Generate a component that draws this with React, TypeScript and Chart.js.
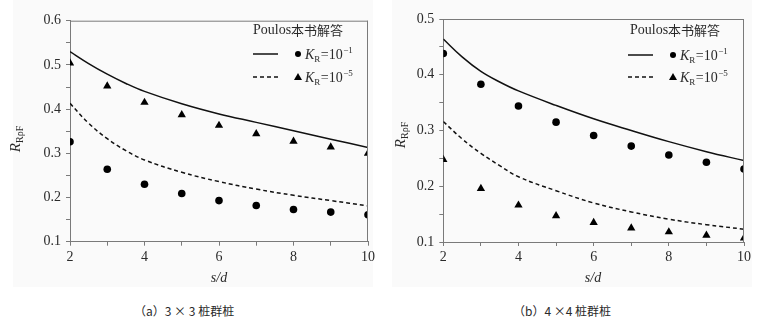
import React, { useEffect, useRef } from 'react';
import { Chart, registerables } from 'chart.js';
Chart.register(...registerables);

// s/d values for the marker series
const sdPoints = [2, 3, 4, 5, 6, 7, 8, 9, 10];
// s/d values for the Poulos curves
const curveX = [2, 2.5, 3, 3.5, 4, 5, 6, 7, 8, 9, 10];

// (a) 3x3
const aSolid = [0.530, 0.503, 0.479, 0.458, 0.440, 0.412, 0.389, 0.370, 0.351, 0.332, 0.313];
const aDashed = [0.413, 0.368, 0.333, 0.306, 0.285, 0.257, 0.236, 0.219, 0.205, 0.193, 0.181];
const aTriangles = [0.504, 0.452, 0.415, 0.387, 0.363, 0.344, 0.327, 0.314, 0.300];
const aCircles = [0.326, 0.264, 0.230, 0.209, 0.193, 0.182, 0.173, 0.167, 0.161];

// (b) 4x4
const bSolid = [0.464, 0.432, 0.406, 0.387, 0.371, 0.345, 0.321, 0.300, 0.280, 0.262, 0.246];
const bDashed = [0.316, 0.285, 0.259, 0.237, 0.217, 0.192, 0.170, 0.154, 0.141, 0.131, 0.123];
const bCircles = [0.438, 0.383, 0.344, 0.315, 0.291, 0.272, 0.256, 0.243, 0.231];
const bTriangles = [0.248, 0.196, 0.166, 0.147, 0.135, 0.125, 0.118, 0.112, 0.107];

const legendTitle = 'Poulos本书解答';
const xTitle = 's/d';
const captionA = '（a）3 × 3 桩群桩';
const captionB = '（b）4 ×4 桩群桩';

const SERIF = '"Liberation Serif", "DejaVu Serif", serif';
const CJK = '"Noto Sans CJK SC", sans-serif';
const AXIS = '#7a7a7a';
const TEXT = '#2a2a2a';

type PanelCfg = {
  left: number;
  ymax: number;
  solid: number[];
  dashed: number[];
  circles: number[];
  triangles: number[];
  yAxisWidth: number;
  xAxisHeight: number;
  padTop: number;
  padRight: number;
  bgLeft: number;
  bgRight: number;
  legX: number;
  legLineX: number;
  legMarkX: number;
  legTextX: number;
  legY: number[];
  yTitle: [number, number];
  xTitleX: number;
};

function drawKR(ctx: CanvasRenderingContext2D, x: number, y: number, exp: string) {
  ctx.fillStyle = TEXT;
  ctx.textAlign = 'left';
  ctx.textBaseline = 'alphabetic';
  const base = y + 5;
  ctx.font = `italic 14px ${SERIF}`;
  ctx.fillText('K', x, base);
  let cx = x + ctx.measureText('K').width;
  ctx.font = `9px ${SERIF}`;
  ctx.fillText('R', cx, base + 3);
  cx += ctx.measureText('R').width + 0.5;
  ctx.font = `14px ${SERIF}`;
  ctx.fillText('=10', cx, base);
  cx += ctx.measureText('=10').width + 0.5;
  ctx.font = `9px ${SERIF}`;
  ctx.fillText(exp, cx, base - 6);
}

function Panel({ cfg }: { cfg: PanelCfg }) {
  const ref = useRef<HTMLCanvasElement | null>(null);
  useEffect(() => {
    const canvas = ref.current;
    if (!canvas) return;
    const decor = {
      id: 'decor',
      beforeDraw(chart: any) {
        const ctx = chart.ctx as CanvasRenderingContext2D;
        ctx.save();
        ctx.fillStyle = '#fafafa';
        ctx.fillRect(cfg.bgLeft, 0, cfg.bgRight - cfg.bgLeft, 287);
        ctx.restore();
      },
      afterDraw(chart: any) {
        const ctx = chart.ctx as CanvasRenderingContext2D;
        const a = chart.chartArea;
        ctx.save();
        // frame top/right
        ctx.strokeStyle = AXIS;
        ctx.lineWidth = 1;
        ctx.beginPath();
        ctx.moveTo(a.left, a.top + 0.5);
        ctx.lineTo(a.right, a.top + 0.5);
        ctx.moveTo(a.right - 0.5, a.top);
        ctx.lineTo(a.right - 0.5, a.bottom);
        ctx.stroke();

        // x title
        ctx.fillStyle = TEXT;
        ctx.font = `italic 14px ${SERIF}`;
        ctx.textAlign = 'center';
        ctx.textBaseline = 'middle';
        ctx.fillText(xTitle, cfg.xTitleX, 278);

        // y title R_RρF
        ctx.save();
        ctx.translate(cfg.yTitle[0], cfg.yTitle[1]);
        ctx.rotate(-Math.PI / 2);
        ctx.font = `italic 15px ${SERIF}`;
        const w1 = ctx.measureText('R').width;
        ctx.font = `10px ${SERIF}`;
        const w2 = ctx.measureText('RρF').width;
        const sx = -(w1 + w2) / 2;
        ctx.textAlign = 'left';
        ctx.textBaseline = 'alphabetic';
        ctx.font = `italic 15px ${SERIF}`;
        ctx.fillText('R', sx, 5);
        ctx.font = `10px ${SERIF}`;
        ctx.fillText('RρF', sx + w1, 8);
        ctx.restore();

        // legend
        ctx.textAlign = 'left';
        ctx.textBaseline = 'middle';
        ctx.font = `14px ${SERIF}`;
        const pw = ctx.measureText('Poulos').width;
        ctx.fillText('Poulos', cfg.legX, cfg.legY[0]);
        ctx.font = `13px ${CJK}`;
        ctx.fillText(legendTitle.slice(6), cfg.legX + pw, cfg.legY[0]);

        ctx.strokeStyle = '#111';
        ctx.lineWidth = 1.5;
        ctx.beginPath();
        ctx.moveTo(cfg.legLineX, cfg.legY[1]);
        ctx.lineTo(cfg.legLineX + 25, cfg.legY[1]);
        ctx.stroke();
        ctx.setLineDash([4, 3]);
        ctx.beginPath();
        ctx.moveTo(cfg.legLineX, cfg.legY[2]);
        ctx.lineTo(cfg.legLineX + 25, cfg.legY[2]);
        ctx.stroke();
        ctx.setLineDash([]);

        ctx.fillStyle = '#000';
        ctx.beginPath();
        ctx.arc(cfg.legMarkX, cfg.legY[1], 3, 0, Math.PI * 2);
        ctx.fill();
        const ty = cfg.legY[2];
        ctx.beginPath();
        ctx.moveTo(cfg.legMarkX, ty - 4);
        ctx.lineTo(cfg.legMarkX + 4, ty + 3);
        ctx.lineTo(cfg.legMarkX - 4, ty + 3);
        ctx.closePath();
        ctx.fill();

        drawKR(ctx, cfg.legTextX, cfg.legY[1], '−1');
        drawKR(ctx, cfg.legTextX, cfg.legY[2], '−5');
        ctx.restore();
      },
    };

    const toPts = (xs: number[], ys: number[]) => xs.map((x, i) => ({ x, y: ys[i] }));

    const chart = new Chart(canvas, {
      type: 'scatter',
      data: {
        datasets: [
          {
            type: 'line',
            data: toPts(curveX, cfg.solid),
            borderColor: '#111',
            borderWidth: 1.5,
            pointRadius: 0,
            tension: 0.4,
            fill: false,
          } as any,
          {
            type: 'line',
            data: toPts(curveX, cfg.dashed),
            borderColor: '#111',
            borderWidth: 1.5,
            borderDash: [4, 3],
            pointRadius: 0,
            tension: 0.4,
            fill: false,
          } as any,
          {
            data: toPts(sdPoints, cfg.circles),
            pointStyle: 'circle',
            pointRadius: 3.8,
            backgroundColor: '#000',
            borderWidth: 0,
            clip: 0,
          } as any,
          {
            data: toPts(sdPoints, cfg.triangles),
            pointStyle: 'triangle',
            pointRadius: 4.8,
            backgroundColor: '#000',
            borderWidth: 0,
            clip: 0,
          } as any,
        ],
      },
      options: {
        responsive: false,
        animation: false,
        devicePixelRatio: 1,
        layout: { padding: { left: 0, top: cfg.padTop, right: cfg.padRight, bottom: 0 } },
        plugins: { legend: { display: false }, tooltip: { enabled: false } },
        events: [],
        scales: {
          x: {
            type: 'linear',
            min: 2,
            max: 10,
            ticks: {
              stepSize: 1,
              autoSkip: false,
              maxRotation: 0,
              padding: 3,
              color: TEXT,
              font: { family: SERIF, size: 14 },
              callback: (v: any) => (Number(v) % 2 === 0 ? String(v) : ''),
            },
            grid: { drawOnChartArea: false, drawTicks: true, tickLength: 4, color: AXIS },
            border: { color: AXIS, width: 1 },
            afterFit: (s: any) => {
              s.height = cfg.xAxisHeight;
            },
          },
          y: {
            type: 'linear',
            min: 0.1,
            max: cfg.ymax,
            ticks: {
              stepSize: 0.05,
              autoSkip: false,
              padding: 5,
              color: TEXT,
              font: { family: SERIF, size: 14 },
              callback: (v: any) => {
                const n = Math.round(Number(v) * 100);
                return n % 10 === 0 ? (n / 100).toFixed(1) : '';
              },
            },
            grid: { drawOnChartArea: false, drawTicks: true, tickLength: 4, color: AXIS },
            border: { color: AXIS, width: 1 },
            afterFit: (s: any) => {
              s.width = cfg.yAxisWidth;
            },
          },
        },
      },
      plugins: [decor],
    } as any);
    return () => chart.destroy();
  }, []);
  return (
    <canvas
      ref={ref}
      width={380}
      height={290}
      style={{ position: 'absolute', left: cfg.left, top: 0, width: 380, height: 290 }}
    />
  );
}

const cfgA: PanelCfg = {
  left: 0,
  ymax: 0.6,
  solid: aSolid,
  dashed: aDashed,
  circles: aCircles,
  triangles: aTriangles,
  yAxisWidth: 70,
  xAxisHeight: 48.3,
  padTop: 20.7,
  padRight: 12,
  bgLeft: 13,
  bgRight: 373,
  legX: 253,
  legLineX: 253,
  legMarkX: 298,
  legTextX: 305,
  legY: [30, 54, 77],
  yTitle: [15, 139],
  xTitleX: 219,
};

const cfgB: PanelCfg = {
  left: 385,
  ymax: 0.5,
  solid: bSolid,
  dashed: bDashed,
  circles: bCircles,
  triangles: bTriangles,
  yAxisWidth: 58.3,
  xAxisHeight: 48,
  padTop: 19,
  padRight: 21,
  bgLeft: 7,
  bgRight: 367,
  legX: 245,
  legLineX: 243,
  legMarkX: 288,
  legTextX: 295,
  legY: [30, 55, 77],
  yTitle: [15, 135],
  xTitleX: 208,
};

export default function App() {
  const cap: React.CSSProperties = {
    position: 'absolute',
    top: 302,
    fontFamily: CJK,
    fontSize: 12,
    color: TEXT,
    whiteSpace: 'pre',
    lineHeight: '18px',
  };
  return (
    <div style={{ position: 'fixed', left: 0, top: 0, width: 765, height: 323, background: '#fff', overflow: 'hidden' }}>
      <Panel cfg={cfgA} />
      <Panel cfg={cfgB} />
      <div style={{ ...cap, left: 134 }}>{captionA}</div>
      <div style={{ ...cap, left: 513 }}>{captionB}</div>
    </div>
  );
}
